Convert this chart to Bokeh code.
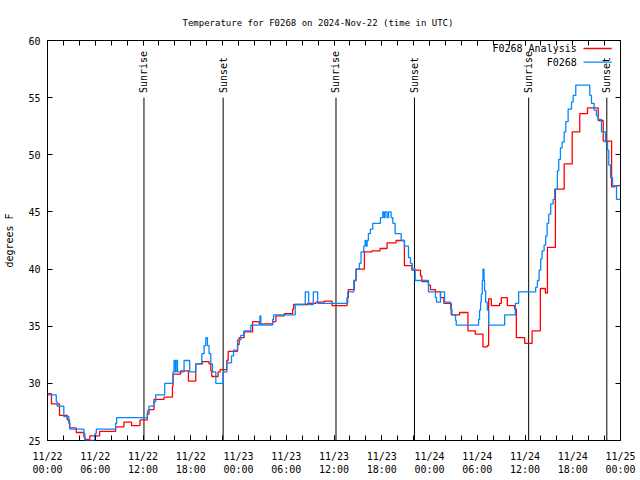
import math
from bokeh.plotting import figure
from bokeh.models import FixedTicker, Range1d, LinearAxis, Label
from bokeh.embed import file_html
from bokeh.resources import INLINE
from bokeh.core.properties import value

TITLE = "Temperature for F0268 on 2024-Nov-22 (time in UTC)"
Y_LABEL = "degrees F"

# hours since 2024-11-22 00:00 UTC
obs_hours = [0.00, 1.10, 1.22, 2.05, 2.68, 2.81, 4.57, 4.70, 5.95, 6.13, 8.56, 8.69,
             12.55, 12.75, 13.38, 13.60, 14.73, 15.77, 15.90, 16.07, 16.15, 16.33,
             17.16, 17.87, 18.63, 19.39, 19.68, 19.89, 20.10, 20.30, 20.52, 20.73,
             21.15, 22.07, 22.53, 23.12, 23.38, 23.88, 24.29, 24.67, 25.55, 26.69,
             26.81, 28.29, 28.41, 31.13, 32.39, 32.82, 33.40, 33.95, 37.73, 38.49,
             38.77, 39.19, 39.40, 39.74, 39.91, 40.03, 40.16, 40.32, 40.57, 40.87,
             41.83, 42.13, 42.30, 42.42, 42.67, 42.86, 43.18, 43.39, 43.68, 44.44,
             44.85, 45.36, 45.61, 45.82, 46.20, 47.87, 48.75, 48.88, 49.38, 49.89,
             50.64, 50.82, 51.27, 51.36, 54.17, 54.29, 54.42, 54.51, 54.63, 54.72,
             54.85, 54.92, 55.05, 55.26, 55.43, 57.44, 58.79, 59.20, 61.34, 61.56,
             61.77, 61.97, 62.15, 62.40, 62.60, 62.78, 62.98, 63.23, 63.53, 63.73,
             64.07, 64.24, 64.45, 64.67, 64.92, 65.12, 65.42, 65.84, 66.05, 66.38,
             68.14, 68.35, 68.69, 68.98, 69.20, 69.61, 70.12, 70.37, 70.53, 70.75,
             71.00, 71.50, 72.00]
obs_temp = [29.0, 28.4, 28.0, 27.1, 26.5, 26.0, 25.6, 25.0, 25.6, 26.0, 26.5, 27.0,
            27.6, 28.0, 28.4, 29.0, 30.0, 31.0, 32.0, 31.0, 32.0, 31.0,
            32.0, 31.0, 31.7, 32.6, 33.3, 34.0, 33.3, 32.6, 31.7, 31.0,
            30.0, 31.0, 31.8, 32.4, 32.9, 33.8, 34.2, 34.6, 35.1, 35.9,
            35.1, 35.6, 36.0, 36.9, 38.0, 36.9, 38.0, 37.0, 38.0, 39.0,
            40.0, 40.5, 41.5, 42.0, 42.5, 42.0, 42.5, 43.1, 43.5, 44.0,
            44.5, 45.0, 44.5, 45.0, 44.5, 45.0, 44.5, 44.0, 43.1, 42.5,
            42.0, 41.0, 40.5, 40.0, 39.0, 38.0, 37.5, 37.1, 38.0, 37.1,
            36.5, 36.0, 35.5, 35.1, 35.6, 36.4, 37.1, 37.8, 39.0, 40.0,
            39.0, 38.1, 37.1, 36.4, 35.1, 36.0, 37.0, 38.0, 38.4, 39.0,
            39.9, 40.9, 41.6, 42.1, 42.9, 44.0, 44.8, 45.7, 46.1, 47.0,
            48.6, 49.6, 50.6, 51.1, 52.0, 52.9, 54.0, 54.6, 55.2, 56.1,
            55.2, 54.5, 53.9, 53.4, 53.1, 52.0, 51.1, 50.4, 49.1, 48.0,
            47.3, 46.1, 46.1]

ana_hours = [0.00, 0.50, 1.51, 2.48, 2.77, 3.61, 4.57, 4.70, 5.32, 6.55, 8.56, 9.60,
             10.57, 11.62, 12.55, 12.75, 13.38, 14.64, 15.70, 15.77, 16.74, 17.71,
             18.63, 19.47, 20.30, 20.52, 20.64, 21.44, 21.69, 22.53, 22.70, 23.88,
             24.08, 24.71, 25.77, 26.60, 28.29, 28.70, 29.75, 30.80, 30.93, 32.69,
             33.74, 34.78, 35.75, 37.64, 37.80, 38.56, 38.77, 39.82, 40.75, 41.79,
             42.67, 43.81, 44.85, 45.78, 46.87, 47.04, 47.87, 48.12, 48.75, 49.38,
             49.81, 50.73, 51.78, 52.83, 53.75, 54.72, 55.26, 55.43, 55.77, 56.81,
             57.03, 57.78, 58.70, 58.91, 59.96, 60.89, 61.93, 62.56, 62.82, 63.82,
             64.92, 65.93, 66.88, 67.85, 69.20, 69.83, 70.88, 71.29, 72.00]
ana_temp = [29.1, 28.2, 27.2, 26.8, 26.1, 25.7, 25.3, 25.1, 25.4, 25.8, 26.2, 26.6,
            26.3, 26.8, 27.3, 27.7, 28.6, 28.8, 29.8, 30.8, 31.1, 30.2,
            31.7, 31.9, 31.7, 31.1, 30.6, 31.0, 31.2, 32.0, 32.8, 33.4,
            34.0, 34.5, 35.4, 35.2, 35.4, 35.9, 36.1, 36.5, 36.9, 37.0,
            37.1, 37.2, 36.8, 37.5, 38.2, 39.0, 40.0, 41.5, 41.6, 41.8,
            42.3, 42.5, 40.3, 39.9, 39.4, 38.9, 38.6, 38.2, 38.0, 37.5,
            37.0, 36.0, 36.2, 34.6, 34.3, 33.2, 33.3, 37.4, 36.8, 37.0,
            37.5, 36.8, 36.5, 34.0, 33.5, 34.6, 38.3, 37.9, 41.9, 47.0,
            49.2, 52.0, 53.6, 54.1, 53.0, 51.2, 47.2, 47.3, 47.3]

sun_hours = [12.12, 22.07, 36.25, 46.11, 60.46, 70.28]
sun_labels = ["Sunrise", "Sunset", "Sunrise", "Sunset", "Sunrise", "Sunset"]
sun_line_top = 55.0

x_ticks = [0, 6, 12, 18, 24, 30, 36, 42, 48, 54, 60, 66, 72]
x_tick_labels = ["11/22\n00:00", "11/22\n06:00", "11/22\n12:00", "11/22\n18:00",
                 "11/23\n00:00", "11/23\n06:00", "11/23\n12:00", "11/23\n18:00",
                 "11/24\n00:00", "11/24\n06:00", "11/24\n12:00", "11/24\n18:00",
                 "11/25\n00:00"]
x_minor = list(range(0, 73, 2))
y_ticks = [25, 30, 35, 40, 45, 50, 55, 60]

legend_names = ["F0268 Analysis", "F0268"]
legend_colors = ["#ff0000", "#0088ff"]

FONT = "DejaVu Sans Mono"
FS = "10px"

p = figure(frame_width=573, frame_height=400, output_backend="svg", toolbar_location=None,
           x_range=Range1d(0, 72), y_range=Range1d(25, 60),
           min_border_left=47, min_border_right=20, min_border_top=40, min_border_bottom=40)
p.background_fill_color = "white"
p.border_fill_color = "white"
p.outline_line_color = "black"
p.outline_line_width = 1
p.xgrid.visible = False
p.ygrid.visible = False

p.title.text = TITLE
p.title.align = "left"
p.title.offset = 135
p.title.text_font = FONT
p.title.text_font_size = "9px"
p.title.text_font_style = "normal"
p.title.text_color = "black"
p.title.standoff = 25

def style_axis(ax, labels=True):
    ax.axis_line_color = None
    ax.major_tick_in = 5
    ax.major_tick_out = 0
    ax.minor_tick_in = 5
    ax.minor_tick_out = 0
    ax.major_tick_line_color = "black"
    ax.minor_tick_line_color = "black"
    ax.major_label_text_font = FONT
    ax.major_label_text_font_size = FS
    ax.major_label_text_color = "black" if labels else None
    ax.axis_label_text_font = FONT
    ax.axis_label_text_font_size = FS
    ax.axis_label_text_font_style = "normal"
    ax.axis_label_text_color = "black"

p.xaxis.ticker = FixedTicker(ticks=x_ticks, minor_ticks=x_minor)
p.xaxis.major_label_overrides = {t: lab for t, lab in zip(x_ticks, x_tick_labels)}
p.xaxis.major_label_standoff = 10
style_axis(p.xaxis[0])
p.yaxis.ticker = FixedTicker(ticks=y_ticks, minor_ticks=[])
p.yaxis.axis_label = Y_LABEL
p.yaxis.major_label_standoff = 7
p.yaxis.axis_label_standoff = 10
style_axis(p.yaxis[0])

top_ax = LinearAxis(ticker=FixedTicker(ticks=x_ticks, minor_ticks=x_minor))
style_axis(top_ax, labels=False)
top_ax.major_label_text_font_size = "0px"
right_ax = LinearAxis(ticker=FixedTicker(ticks=y_ticks, minor_ticks=[]))
style_axis(right_ax, labels=False)
right_ax.major_label_text_font_size = "0px"
p.add_layout(top_ax, "above")
p.add_layout(right_ax, "right")

# sunrise / sunset markers
p.segment(x0=sun_hours, y0=[25] * len(sun_hours), x1=sun_hours, y1=[sun_line_top] * len(sun_hours),
          line_color="black", line_width=1)
p.text(x=sun_hours, y=[sun_line_top + 0.4] * len(sun_hours), text=sun_labels, angle=math.pi / 2,
       text_font=value(FONT), text_font_size=FS, text_align="left", text_baseline="middle",
       text_color="black")

# series
p.step(ana_hours, ana_temp, mode="after", line_color=legend_colors[0], line_width=1.3)
p.step(obs_hours, obs_temp, mode="after", line_color=legend_colors[1], line_width=1.3)

# key (gnuplot style: text then sample line)
key_y = [59.3, 58.1]
for name, col, ky in zip(legend_names, legend_colors, key_y):
    p.add_layout(Label(x=66.5, y=ky, text=name, text_font=FONT, text_font_size=FS,
                       text_align="right", text_baseline="middle", text_color="black"))
    p.line([67.35, 70.9], [ky, ky], line_color=col, line_width=1.3)

open("out.html", "w").write(file_html(p, INLINE))
